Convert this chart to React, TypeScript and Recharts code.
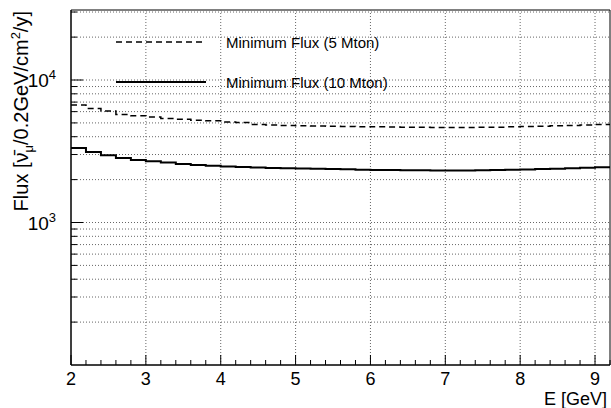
import React from "react";
import {
  LineChart,
  Line,
  XAxis,
  YAxis,
  ReferenceLine,
  ReferenceArea,
  Legend,
} from "recharts";

// bin lower edges in GeV (0.2 GeV bins), last entry closes the final bin
const energy = [
  2.0, 2.2, 2.4, 2.6, 2.8, 3.0, 3.2, 3.4, 3.6, 3.8, 4.0, 4.2, 4.4, 4.6, 4.8,
  5.0, 5.2, 5.4, 5.6, 5.8, 6.0, 6.2, 6.4, 6.6, 6.8, 7.0, 7.2, 7.4, 7.6, 7.8,
  8.0, 8.2, 8.4, 8.6, 8.8, 9.0, 9.2,
];

const flux5Mton = [
  6670, 6320, 6050, 5730, 5610, 5490, 5370, 5310, 5220, 5170, 5080, 5030,
  4880, 4840, 4800, 4780, 4760, 4740, 4720, 4700, 4690, 4680, 4670, 4660,
  4650, 4650, 4650, 4660, 4670, 4690, 4710, 4740, 4770, 4800, 4840, 4880,
  4880,
];

const flux10Mton = [
  3340, 3130, 2965, 2840, 2750, 2690, 2635, 2575, 2535, 2505, 2470, 2450,
  2435, 2415, 2400, 2390, 2380, 2370, 2360, 2350, 2340, 2335, 2330, 2325,
  2320, 2320, 2322, 2328, 2335, 2345, 2355, 2370, 2385, 2400, 2420, 2440,
  2440,
];

const xTicks = [
  2, 2.2, 2.4, 2.6, 2.8, 3, 3.2, 3.4, 3.6, 3.8, 4, 4.2, 4.4, 4.6, 4.8, 5,
  5.2, 5.4, 5.6, 5.8, 6, 6.2, 6.4, 6.6, 6.8, 7, 7.2, 7.4, 7.6, 7.8, 8, 8.2,
  8.4, 8.6, 8.8, 9, 9.2,
];
const xGridLines = [3, 4, 5, 6, 7, 8, 9];

const yTicks = [
  200, 300, 400, 500, 600, 700, 800, 900, 1000, 2000, 3000, 4000, 5000, 6000,
  7000, 8000, 9000, 10000, 20000, 30000,
];
const yMajorTicks = [1000, 10000];

const series = [
  { key: "flux5", name: "Minimum Flux (5 Mton)", dash: "6 4" },
  { key: "flux10", name: "Minimum Flux (10 Mton)", dash: undefined },
];

const data = energy.map((e, i) => ({
  e,
  flux5: flux5Mton[i],
  flux10: flux10Mton[i],
}));

const W = 611;
const H = 408;
const PLOT_LEFT = 71;
const PLOT_BOTTOM = 365;
const FONT = "'Liberation Sans', Arial, Helvetica, sans-serif";

const XTick = (props: any) => {
  const { x, payload } = props;
  const v = payload.value;
  const major = Math.abs(v - Math.round(v)) < 1e-6;
  return (
    <g>
      <line
        x1={x}
        x2={x}
        y1={PLOT_BOTTOM}
        y2={PLOT_BOTTOM - (major ? 10 : 5)}
        stroke="#000"
      />
      {major && (
        <text
          x={x}
          y={PLOT_BOTTOM + 20}
          textAnchor="middle"
          fontSize={18}
          fontFamily={FONT}
          fill="#000"
        >
          {Math.round(v)}
        </text>
      )}
    </g>
  );
};

const YTick = (props: any) => {
  const { y, payload } = props;
  const v = payload.value;
  const major = yMajorTicks.includes(v);
  return (
    <g>
      <line
        x1={PLOT_LEFT}
        x2={PLOT_LEFT + (major ? 12 : 6)}
        y1={y}
        y2={y}
        stroke="#000"
      />
      {major && (
        <text
          x={56}
          y={y + 7}
          textAnchor="end"
          fontSize={19}
          fontFamily={FONT}
          fill="#000"
        >
          10
          <tspan dy={-8} fontSize={13}>
            {Math.round(Math.log10(v))}
          </tspan>
        </text>
      )}
    </g>
  );
};

const YTitle = () => (
  <text
    x={28}
    y={11}
    transform="rotate(-90, 28, 11)"
    textAnchor="end"
    fontSize={20}
    fontFamily={FONT}
    fill="#000"
  >
    Flux [ν̄
    <tspan dy={5} fontSize={13}>
      μ
    </tspan>
    <tspan dy={-5}>/0.2GeV/cm</tspan>
    <tspan dy={-8} fontSize={13}>
      2
    </tspan>
    <tspan dy={8}>/y]</tspan>
  </text>
);

const XTitle = () => (
  <text
    x={607}
    y={405}
    textAnchor="end"
    fontSize={18}
    fontFamily={FONT}
    fill="#000"
  >
    E [GeV]
  </text>
);

const renderLegend = () => (
  <div style={{ fontFamily: FONT, fontSize: 15, color: "#000" }}>
    {series.map((s) => (
      <div
        key={s.key}
        style={{ display: "flex", alignItems: "center", height: 40 }}
      >
        <svg width={90} height={4} style={{ marginRight: 20 }}>
          <line
            x1={0}
            x2={90}
            y1={2}
            y2={2}
            stroke="#000"
            strokeWidth={s.dash ? 1.5 : 2}
            strokeDasharray={s.dash}
          />
        </svg>
        <span>{s.name}</span>
      </div>
    ))}
  </div>
);

export default function App() {
  return (
    <div
      style={{
        position: "absolute",
        left: 0,
        top: 0,
        width: W,
        height: H,
        background: "#fff",
      }}
    >
      <LineChart
        width={W}
        height={H}
        data={data}
        margin={{ top: 10, right: 1, left: 26, bottom: 13 }}
      >
        <XAxis
          dataKey="e"
          type="number"
          domain={[2, 9.2]}
          ticks={xTicks}
          interval={0}
          allowDataOverflow
          tickLine={false}
          axisLine={{ stroke: "#000" }}
          tick={<XTick />}
          height={30}
          label={<XTitle />}
        />
        <YAxis
          type="number"
          scale="log"
          domain={[100, 31000]}
          ticks={yTicks}
          interval={0}
          allowDataOverflow
          tickLine={false}
          axisLine={{ stroke: "#000" }}
          tick={<YTick />}
          width={45}
          label={<YTitle />}
        />
        {xGridLines.map((v) => (
          <ReferenceLine
            key={"gx" + v}
            x={v}
            stroke="#666"
            strokeDasharray="1 2"
          />
        ))}
        {yTicks.map((v) => (
          <ReferenceLine
            key={"gy" + v}
            y={v}
            stroke="#666"
            strokeDasharray="1 2"
          />
        ))}
        <ReferenceArea
          x1={2}
          x2={9.2}
          y1={100}
          y2={31000}
          fill="none"
          stroke="#000"
          strokeWidth={1}
        />
        {series.map((s) => (
          <Line
            key={s.key}
            dataKey={s.key}
            name={s.name}
            type="stepAfter"
            stroke="#000"
            strokeWidth={s.dash ? 1.5 : 2}
            strokeDasharray={s.dash}
            dot={false}
            activeDot={false}
            isAnimationActive={false}
          />
        ))}
        <Legend
          layout="vertical"
          align="center"
          verticalAlign="middle"
          content={renderLegend}
          wrapperStyle={{ left: 116, top: 22, width: 320, height: 80 }}
        />
      </LineChart>
    </div>
  );
}
